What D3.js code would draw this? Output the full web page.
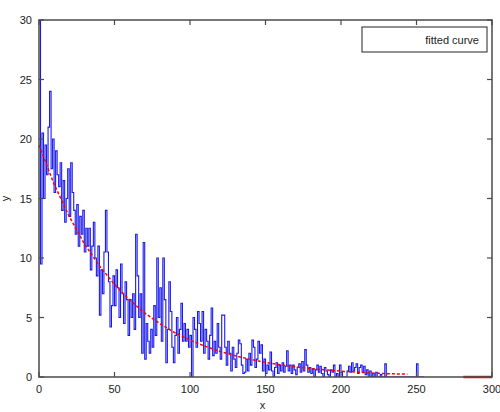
<!DOCTYPE html>
<html>
<head>
<meta charset="utf-8">
<script src="https://cdn.jsdelivr.net/npm/d3@7/dist/d3.min.js"></script>
<style>
  body { margin: 0; background: #fff; }
  text { font-family: "Liberation Sans", Arial, sans-serif; }
</style>
</head>
<body>
<div id="chart"></div>
<script>
// Observed data: one value per x step (0..255)
var observed = [
  30, 9.5, 20.5, 15, 19.5, 17, 21, 24, 17.5, 20,
  15.5, 19, 17, 16, 18, 14, 16.5, 13, 15, 17.5,
  13.5, 18, 15.5, 14, 12, 14.5, 11, 13.5, 12, 14,
  10.5, 12.5, 11, 12.5, 9, 11, 13, 10, 8.5, 11,
  5.2, 9, 7, 10.5, 14, 10.5, 8, 4.2, 6, 8.5,
  6, 9, 7.5, 5, 9.5, 7, 4.5, 8, 6.5, 3.5,
  6.5, 5, 7, 4, 12, 8.5, 5, 7, 2, 11.3,
  1.5, 4.5, 3, 2, 4, 2.5, 6, 3.5, 10, 5,
  7.5, 3, 10, 6.5, 1.2, 4, 8, 5.5, 2.5, 1.2,
  3.5, 5, 2, 4, 6.2, 3, 4.5, 3, 4, 2.5,
  3.5, 0, 5, 4, 2.5, 5.5, 4.5, 3, 5.5, 2,
  4, 3, 1.5, 3.5, 5.8, 1.8, 3, 2, 4.5, 2.5,
  1.5, 5.2, 5.2, 2.5, 1, 3, 2, 0.5, 2.5, 1.5,
  0.8, 2, 3.1, 2.8, 1, 0.3, 0.4, 1.5, 0.5, 2,
  1, 3.1, 2.5, 0.8, 1.5, 3, 2, 2.7, 0.5, 1.5,
  0.3, 1, 0.6, 2.1, 0.5, 0, 0.8, 1.2, 0.3, 1,
  0.5, 1.2, 0.4, 0.9, 2.2, 0.5, 1, 0.3, 1, 0.6,
  0.2, 0.8, 1.1, 0.4, 1.3, 0.5, 2.3, 1, 0.4, 0.8,
  0.3, 0.7, 0, 0.6, 1, 0.4, 0.9, 0.3, 0, 0.8,
  0.5, 0.2, 0, 0.6, 0.4, 1, 0, 0.3, 0, 1,
  0.4, 0, 0, 0, 0.5, 0.9, 0.4, 1.2, 0.5, 0.8,
  1.1, 0.3, 0.8, 1, 0.4, 0.9, 0.2, 0.6, 0, 0.5,
  0, 0.3, 0, 0.4, 0, 0, 0.2, 0, 0, 1.1,
  0, 0, 0, 0, 0, 0, 0, 0, 0, 0,
  0, 0, 0, 0, 0, 0, 0, 0, 0, 0,
  1.1, 0, 0, 0, 0, 0
];

// Fitted curve, read every 10 units of x
var fitX = [0, 10, 20, 30, 40, 50, 60, 70, 80, 90, 100, 110, 120,
            130, 140, 150, 160, 170, 180, 190, 200, 210, 220, 230, 244];
var fitY = [19.5, 16.2, 13.5, 11.2, 9.35, 7.78, 6.47, 5.38, 4.48, 3.72, 3.1, 2.58, 2.14,
            1.78, 1.48, 1.23, 1.03, 0.85, 0.71, 0.59, 0.49, 0.41, 0.34, 0.28, 0.24];

// short red segment at the right end of the axis
var tailX = [281, 300];
var tailY = [0, 0];

var xTicks = [0, 50, 100, 150, 200, 250, 300];
var yTicks = [0, 5, 10, 15, 20, 25, 30];

var w = 500, h = 412;
var margin = {left: 39, right: 8, top: 20, bottom: 35};

var svg = d3.select("#chart").append("svg")
    .attr("width", w)
    .attr("height", h);

var xScale = d3.scaleLinear().domain([0, 300]).range([margin.left, w - margin.right]);
var yScale = d3.scaleLinear().domain([0, 30]).range([h - margin.bottom, margin.top]);

svg.append("clipPath").attr("id", "plot-clip")
  .append("rect")
    .attr("x", margin.left).attr("y", margin.top)
    .attr("width", w - margin.left - margin.right)
    .attr("height", h - margin.top - margin.bottom);

// blue stairs
var stepLine = d3.line()
    .x((d, i) => xScale(i))
    .y(d => yScale(d))
    .curve(d3.curveStepAfter);

svg.append("path")
    .datum(observed)
    .attr("clip-path", "url(#plot-clip)")
    .attr("d", stepLine)
    .attr("fill", "none")
    .attr("stroke", "#1a1aee")
    .attr("stroke-width", 1.1);

// red fitted curve
var fitLine = d3.line()
    .x(d => xScale(d[0]))
    .y(d => yScale(d[1]));

svg.append("path")
    .datum(d3.zip(fitX, fitY))
    .attr("d", fitLine)
    .attr("fill", "none")
    .attr("stroke", "#ff0000")
    .attr("stroke-width", 1.5)
    .attr("stroke-dasharray", "3,2");

svg.append("path")
    .datum(d3.zip(tailX, tailY))
    .attr("d", fitLine)
    .attr("fill", "none")
    .attr("stroke", "#e02020")
    .attr("stroke-width", 2.5);

// axes box (matlab style, ticks inside)
var axisColor = "#4a4a4a";
var x0 = xScale(0), x1 = xScale(300), y0 = yScale(0), y1 = yScale(30);

svg.append("rect")
    .attr("x", x0).attr("y", y1)
    .attr("width", x1 - x0).attr("height", y0 - y1)
    .attr("fill", "none")
    .attr("stroke", axisColor)
    .attr("stroke-width", 1.5);

var tickLen = 5;
xTicks.forEach(t => {
  var x = xScale(t);
  svg.append("line").attr("x1", x).attr("x2", x).attr("y1", y0).attr("y2", y0 - tickLen)
      .attr("stroke", axisColor).attr("stroke-width", 1.2);
  svg.append("line").attr("x1", x).attr("x2", x).attr("y1", y1).attr("y2", y1 + tickLen)
      .attr("stroke", axisColor).attr("stroke-width", 1.2);
  svg.append("text")
      .attr("x", x).attr("y", y0 + 16)
      .attr("text-anchor", "middle")
      .attr("font-size", 11)
      .attr("fill", "#222")
      .text(t);
});

yTicks.forEach(t => {
  var y = yScale(t);
  svg.append("line").attr("x1", x0).attr("x2", x0 + tickLen).attr("y1", y).attr("y2", y)
      .attr("stroke", axisColor).attr("stroke-width", 1.2);
  svg.append("line").attr("x1", x1).attr("x2", x1 - tickLen).attr("y1", y).attr("y2", y)
      .attr("stroke", axisColor).attr("stroke-width", 1.2);
  svg.append("text")
      .attr("x", x0 - 7).attr("y", y + 4)
      .attr("text-anchor", "end")
      .attr("font-size", 11)
      .attr("fill", "#222")
      .text(t);
});

// axis labels
svg.append("text")
    .attr("x", (x0 + x1) / 2 - 3).attr("y", h - 3)
    .attr("text-anchor", "middle")
    .attr("font-size", 11)
    .attr("fill", "#222")
    .text("x");

svg.append("text")
    .attr("transform", `translate(9,${(y0 + y1) / 2}) rotate(-90)`)
    .attr("text-anchor", "middle")
    .attr("font-size", 11)
    .attr("fill", "#222")
    .text("y");

// legend
svg.append("rect")
    .attr("x", 362).attr("y", 27)
    .attr("width", 125).attr("height", 25)
    .attr("fill", "#fff")
    .attr("stroke", "#222")
    .attr("stroke-width", 1);

svg.append("text")
    .attr("x", 479).attr("y", 44)
    .attr("text-anchor", "end")
    .attr("font-size", 11)
    .attr("fill", "#222")
    .text("fitted curve");
</script>
</body>
</html>
